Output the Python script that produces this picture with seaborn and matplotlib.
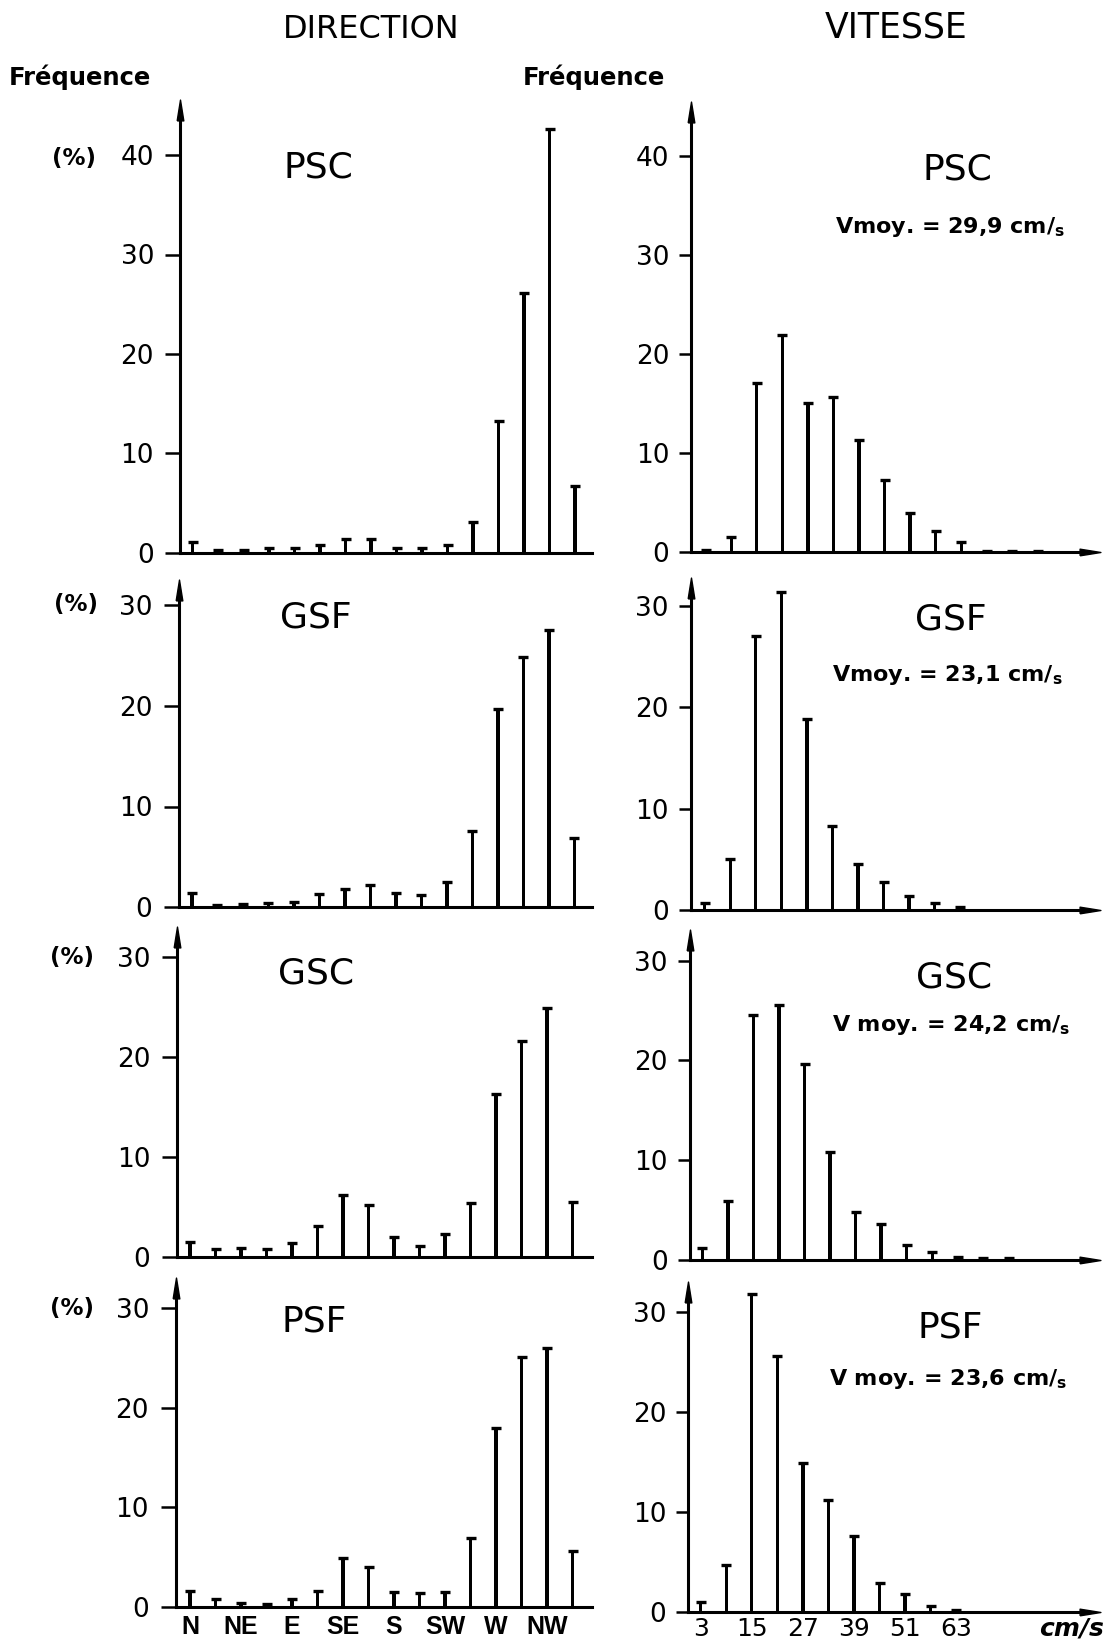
import numpy as np
import pandas as pd
import matplotlib
matplotlib.use("Agg")
import matplotlib.pyplot as plt
import seaborn as sns

# ---------------- data ----------------
directions = ["N", "NNE", "NE", "ENE", "E", "ESE", "SE", "SSE",
              "S", "SSW", "SW", "WSW", "W", "WNW", "NW", "NNW"]
direction_tick_labels = ["N", "NE", "E", "SE", "S", "SW", "W", "NW"]
speed_bins = [3, 9, 15, 21, 27, 33, 39, 45, 51, 57, 63, 69, 75, 81]
speed_tick_labels = [3, 15, 27, 39, 51, 63]

stations = ["PSC", "GSF", "GSC", "PSF"]
mean_speed_texts = ["Vmoy. = 29,9 cm/$_\\mathregular{s}$",
                    "Vmoy. = 23,1 cm/$_\\mathregular{s}$",
                    "V moy. = 24,2 cm/$_\\mathregular{s}$",
                    "V moy. = 23,6 cm/$_\\mathregular{s}$"]

dir_psc = [1.1, 0.3, 0.3, 0.5, 0.5, 0.8, 1.4, 1.4, 0.5, 0.5, 0.8, 3.1, 13.2, 26.1, 42.6, 6.7]
dir_gsf = [1.4, 0.2, 0.3, 0.4, 0.5, 1.3, 1.8, 2.2, 1.4, 1.2, 2.5, 7.6, 19.7, 24.8, 27.5, 6.9]
dir_gsc = [1.5, 0.8, 0.9, 0.8, 1.4, 3.1, 6.2, 5.2, 2.0, 1.1, 2.3, 5.4, 16.3, 21.6, 24.9, 5.5]
dir_psf = [1.6, 0.8, 0.4, 0.3, 0.8, 1.6, 4.9, 4.0, 1.5, 1.4, 1.5, 6.9, 18.0, 25.1, 26.0, 5.6]

spd_psc = [0.2, 1.5, 17.1, 21.9, 15.0, 15.6, 11.3, 7.2, 3.9, 2.1, 1.0, 0.1, 0.1, 0.1]
spd_gsf = [0.7, 5.0, 27.0, 31.4, 18.9, 8.3, 4.5, 2.8, 1.4, 0.7, 0.3]
spd_gsc = [1.2, 5.9, 24.5, 25.6, 19.6, 10.8, 4.8, 3.6, 1.5, 0.8, 0.3, 0.2, 0.2]
spd_psf = [1.0, 4.7, 31.8, 25.6, 14.9, 11.2, 7.6, 2.9, 1.8, 0.6, 0.2]

dir_series = [dir_psc, dir_gsf, dir_gsc, dir_psf]
spd_series = [spd_psc, spd_gsf, spd_gsc, spd_psf]

# ---------------- style ----------------
sns.set_style("white")
plt.rcParams["font.family"] = ["DejaVu Sans"]
plt.rcParams["mathtext.default"] = "regular"
plt.rcParams["text.color"] = "black"
plt.rcParams["axes.labelcolor"] = "black"
plt.rcParams["xtick.color"] = "black"
plt.rcParams["ytick.color"] = "black"

W, H = 1119, 1647
fig = plt.figure(figsize=(W / 100, H / 100), dpi=100)


def rect(l, r, zero, top):
    return [l / W, 1 - zero / H, (r - l) / W, (zero - top) / H]


def fx(x):
    return x / W


def fy(y):
    return 1 - y / H


arrow_up = [(-0.32, -1.0), (0.0, 1.0), (0.32, -1.0), (-0.32, -1.0)]
arrow_right = [(-1.0, -0.32), (1.0, 0.0), (-1.0, 0.32), (-1.0, -0.32)]

# layout (pixels)
L_left = [180.5, 178.7, 176.8, 175.5]
L_bar0 = [192.6, 191.9, 190.0, 190.0]
L_right = 592
L_zero = [552.7, 907.3, 1256.7, 1606.7]
L_top = [110, 590, 937, 1288]
L_ppu = [9.94, 10.08, 10.0, 9.95]
L_sp = 25.5

R_left = [691.0, 690.5, 689.5, 688.0]
R_bar0 = [705.7, 704.7, 702.3, 700.7]
R_right = 1090
R_zero = [551.7, 910.0, 1260.0, 1611.7]
R_top = [111.7, 588, 940, 1292]
R_ppu = [9.89, 10.13, 9.98, 10.0]
R_pp = 25.55 / 6.0

left_label_pos = [(318, 167), (316, 618), (316, 974), (314, 1321)]
right_label_pos = [(957, 170), (951, 620), (954, 978), (950, 1328)]
vmoy_pos = [(950, 227), (947, 675), (951, 1025), (948, 1379)]
pct_pos = [(74, 159), (76, 604), (72, 958), (72, 1309)]


def style_axes(ax, right_arrow, tick_len):
    for s in ["top", "right"]:
        ax.spines[s].set_visible(False)
    for s in ["left", "bottom"]:
        ax.spines[s].set_linewidth(2.2)
        ax.spines[s].set_color("black")
    ax.plot([0], [1], marker=arrow_up, ms=15, color="black",
            transform=ax.transAxes, clip_on=False, zorder=5)
    if right_arrow:
        ax.plot([1], [0], marker=arrow_right, ms=15, color="black",
                transform=ax.transAxes, clip_on=False, zorder=5)
    ax.tick_params(axis="y", length=tick_len, width=1.8, direction="out",
                   labelsize=19, colors="black", left=True)
    ax.tick_params(axis="x", length=0, bottom=False, colors="black")
    ax.set_xlabel("")
    ax.set_ylabel("")
    ax.patch.set_alpha(0)


def draw_stems(ax, x, y, width):
    df = pd.DataFrame({"x": x, "y": y})
    sns.barplot(data=df, x="x", y="y", native_scale=True, orient="x",
                width=width, color="black", saturation=1, edgecolor="none",
                linewidth=0, errorbar=None, ax=ax)
    sns.scatterplot(data=df, x="x", y="y", marker="_", s=60, color="black",
                    linewidth=2.4, ax=ax, zorder=4, legend=False)


for i in range(4):
    # ---- direction panel ----
    ax = fig.add_axes(rect(L_left[i], L_right, L_zero[i], L_top[i]))
    pos = np.arange(len(directions))
    draw_stems(ax, pos, dir_series[i], 0.13)
    ax.set_xlim((L_left[i] - L_bar0[i]) / L_sp, (L_right - L_bar0[i]) / L_sp)
    ax.set_ylim(0, (L_zero[i] - L_top[i]) / L_ppu[i])
    ax.set_yticks([0, 10, 20, 30, 40] if i == 0 else [0, 10, 20, 30])
    style_axes(ax, False, 11)
    ax.tick_params(axis="y", pad=8)
    if i == 3:
        ax.set_xticks(pos[::2])
        ax.set_xticklabels(direction_tick_labels, fontsize=18,
                           fontweight="bold", family="Liberation Sans")
        ax.tick_params(axis="x", pad=6)
    else:
        ax.set_xticks([])

    # ---- speed panel ----
    ax2 = fig.add_axes(rect(R_left[i], R_right, R_zero[i], R_top[i]))
    draw_stems(ax2, speed_bins[:len(spd_series[i])], spd_series[i], 0.13)
    ax2.set_xlim(3 + (R_left[i] - R_bar0[i]) / R_pp, 3 + (R_right - R_bar0[i]) / R_pp)
    ax2.set_ylim(0, (R_zero[i] - R_top[i]) / R_ppu[i])
    ax2.set_yticks([0, 10, 20, 30, 40] if i == 0 else [0, 10, 20, 30])
    style_axes(ax2, True, 8.5)
    ax2.tick_params(axis="y", pad=7)
    if i == 3:
        ax2.set_xticks(speed_tick_labels)
        ax2.set_xticklabels([str(v) for v in speed_tick_labels], fontsize=18)
        ax2.tick_params(axis="x", pad=4)
    else:
        ax2.set_xticks([])

    # ---- annotations ----
    x, y = left_label_pos[i]
    fig.text(fx(x), fy(y), stations[i], fontsize=26, ha="center", va="center")
    x, y = right_label_pos[i]
    fig.text(fx(x), fy(y), stations[i], fontsize=26, ha="center", va="center")
    x, y = vmoy_pos[i]
    fig.text(fx(x), fy(y), mean_speed_texts[i], fontsize=16, fontweight="bold",
             ha="center", va="center")
    x, y = pct_pos[i]
    fig.text(fx(x), fy(y), "(%)", fontsize=16.5, fontweight="bold",
             ha="center", va="center")

# headers
fig.text(fx(371), fy(30), "DIRECTION", fontsize=23, ha="center", va="center")
fig.text(fx(896), fy(28), "VITESSE", fontsize=25, ha="center", va="center")
fig.text(fx(80), fy(77), "Fréquence", fontsize=17.5, fontweight="bold",
         ha="center", va="center")
fig.text(fx(594), fy(77), "Fréquence", fontsize=17.5, fontweight="bold",
         ha="center", va="center")
fig.text(fx(1072), fy(1629), "cm/s", fontsize=18, fontstyle="italic",
         fontweight="bold", ha="center", va="center")

fig.savefig("out.png", dpi=100, facecolor="white")
